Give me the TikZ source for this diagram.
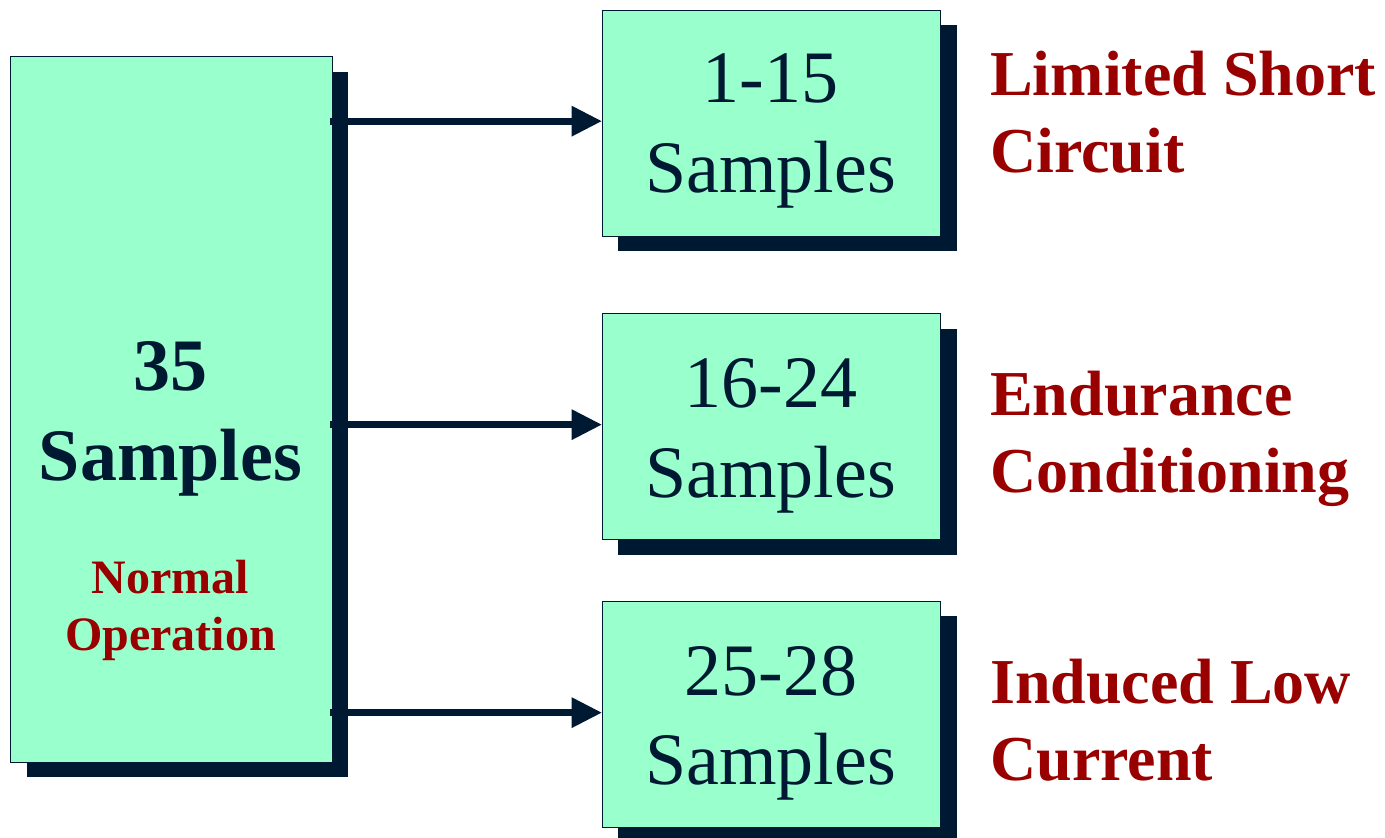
\documentclass[tikz,border=0pt]{standalone}
\usepackage{fontspec}
\setmainfont{Liberation Serif}
\usetikzlibrary{arrows.meta,shadows}
\definecolor{mint}{HTML}{99FFCC}
\definecolor{navy}{HTML}{001933}
\definecolor{darkred}{HTML}{990000}
\begin{document}
\begin{tikzpicture}[x=1pt,y=-1pt,
  box/.style={draw=navy, line width=1.3pt, fill=mint, inner sep=0pt, anchor=north west,
    general shadow={fill=navy, shadow xshift=16pt, shadow yshift=-15pt}},
  smallbox/.style={box, minimum width=338.5pt, minimum height=226pt},
  numtext/.style={anchor=base, inner sep=0pt, text=navy, font=\fontsize{74}{80}\selectfont},
  boldtext/.style={anchor=base, inner sep=0pt, text=navy, font=\bfseries\fontsize{74}{80}\selectfont},
  modetext/.style={anchor=base, inner sep=0pt, text=darkred, font=\bfseries\fontsize{48}{54}\selectfont},
  testlabel/.style={anchor=base west, inner sep=0pt, text=darkred, font=\bfseries\fontsize{64}{70}\selectfont},
  conn/.style={draw=navy, line width=6.7pt,
    -{Triangle[length=30pt, width=31pt, line width=0pt]}}
]
\useasboundingbox (0,0) rectangle (1385,838);

% source box with all samples
\node[box, minimum width=321.5pt, minimum height=705.5pt] (all) at (10,56) {};
\node[boldtext] (allnum) at (170.5,390) {35};
\node[boldtext] (allword) at (170.5,480) {Samples};
\node[modetext] (mode1) at (170.5,593) {Normal};
\node[modetext] (mode2) at (170.5,650) {Operation};

% sample groups
\node[smallbox] (g1) at (601.5,9.5) {};
\node[smallbox] (g2) at (601.5,313) {};
\node[smallbox] (g3) at (601.5,600.5) {};

\node[numtext] (g1num) at (770.75,102) {1-15};
\node[numtext] (g1word) at (770.75,192) {Samples};
\node[numtext] (g2num) at (770.75,407) {16-24};
\node[numtext] (g2word) at (770.75,497) {Samples};
\node[numtext] (g3num) at (770.75,695) {25-28};
\node[numtext] (g3word) at (770.75,784) {Samples};

% test conditions
\node[testlabel] (c1a) at (990,95) {Limited Short};
\node[testlabel] (c1b) at (990,172) {Circuit};
\node[testlabel] (c2a) at (990,415) {Endurance};
\node[testlabel] (c2b) at (990,492) {Conditioning};
\node[testlabel] (c3a) at (990,703) {Induced Low};
\node[testlabel] (c3b) at (990,780) {Current};

% connectors, slightly above the middle of each group box
\coordinate (e1) at ([yshift=2pt]g1.west);
\coordinate (e2) at ([yshift=2pt]g2.west);
\coordinate (e3) at ([yshift=1.5pt]g3.west);
\coordinate (s1) at ([xshift=-3pt]all.east |- e1);
\coordinate (s2) at ([xshift=-3pt]all.east |- e2);
\coordinate (s3) at ([xshift=-3pt]all.east |- e3);
\draw[conn] (s1) -- (e1);
\draw[conn] (s2) -- (e2);
\draw[conn] (s3) -- (e3);
\end{tikzpicture}
\end{document}
